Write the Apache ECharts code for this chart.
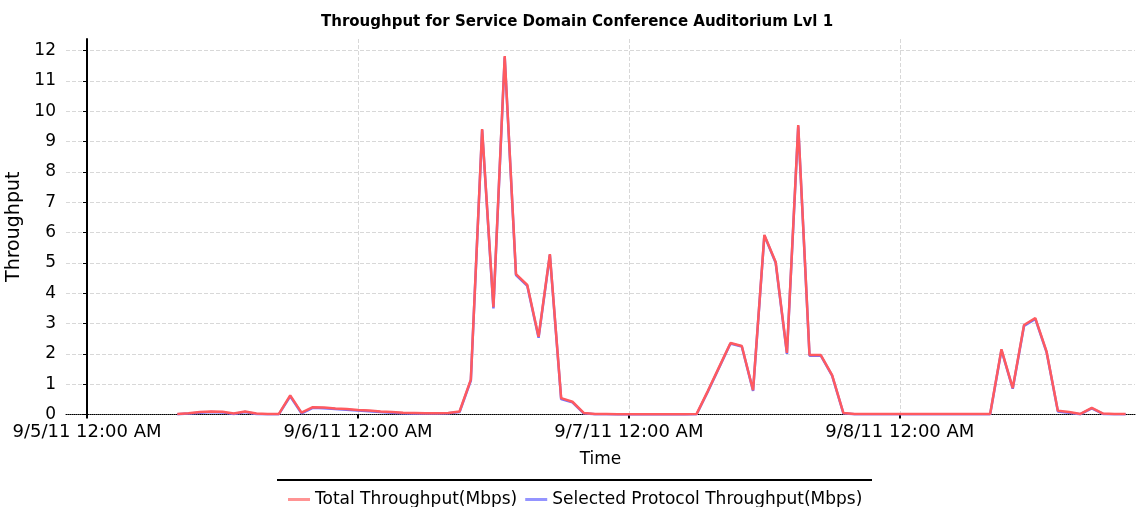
<!DOCTYPE html>
<html>
<head>
<meta charset="utf-8">
<title>Throughput</title>
<script src="https://cdn.jsdelivr.net/npm/echarts@6/dist/echarts.min.js"></script>
<style>
  html, body { margin: 0; padding: 0; background: #fff; }
  #box { width: 1138px; height: 507px; }
</style>
</head>
<body>
<div id="box"></div>
<script>
// hourly samples, hour 0 = 9/5/11 12:00 AM
var firstHour = 8;
var totalThroughput = [
    0.02, 0.04, 0.08, 0.10, 0.09, 0.03, 0.10, 0.03, 0.02, 0.02, 0.63, 0.06,
    0.24, 0.23, 0.20, 0.18, 0.15, 0.13, 0.10, 0.08, 0.06, 0.05, 0.04, 0.04,
    0.05, 0.10, 1.15, 9.41, 3.54, 11.82, 4.63, 4.27, 2.56, 5.29, 0.54, 0.42,
    0.05, 0.02, 0.02, 0.01, 0.01, 0.01, 0.01, 0.01, 0.01, 0.01, 0.02, 0.78,
    1.57, 2.36, 2.26, 0.80, 5.92, 5.03, 2.03, 9.54, 1.96, 1.96, 1.30, 0.05,
    0.02, 0.02, 0.02, 0.02, 0.02, 0.02, 0.02, 0.02, 0.02, 0.02, 0.02, 0.02,
    0.02, 2.15, 0.87, 2.95, 3.18, 2.07, 0.12, 0.08, 0.02, 0.22, 0.03, 0.02,
    0.02
];
var selectedThroughput = [
    0.01, 0.03, 0.06, 0.08, 0.07, 0.02, 0.08, 0.02, 0.01, 0.01, 0.60, 0.04,
    0.22, 0.21, 0.18, 0.16, 0.13, 0.11, 0.08, 0.06, 0.04, 0.03, 0.03, 0.03,
    0.04, 0.08, 1.12, 9.38, 3.50, 11.78, 4.60, 4.24, 2.53, 5.26, 0.51, 0.40,
    0.04, 0.01, 0.01, 0.00, 0.00, 0.00, 0.00, 0.00, 0.00, 0.00, 0.01, 0.76,
    1.55, 2.34, 2.24, 0.78, 5.90, 5.00, 2.00, 9.50, 1.94, 1.94, 1.28, 0.04,
    0.01, 0.01, 0.01, 0.01, 0.01, 0.01, 0.01, 0.01, 0.01, 0.01, 0.01, 0.01,
    0.01, 2.12, 0.85, 2.92, 3.15, 2.05, 0.10, 0.06, 0.01, 0.20, 0.02, 0.01,
    0.01
];
var dayTicks = [0, 24, 48, 72];
var dayLabels = ['9/5/11 12:00 AM', '9/6/11 12:00 AM', '9/7/11 12:00 AM', '9/8/11 12:00 AM'];
var yTicks = [0, 1, 2, 3, 4, 5, 6, 7, 8, 9, 10, 11, 12];
var seriesNames = ['Total Throughput(Mbps)', 'Selected Protocol Throughput(Mbps)'];

function toPoints(values) {
    return values.map(function (v, i) { return [firstHour + i, v]; });
}

var font = 'DejaVu Sans';
var myChart = echarts.init(document.getElementById('box'));

var option = {
    animation: false,
    textStyle: { fontFamily: font },
    title: {
        text: 'Throughput for Service Domain Conference Auditorium Lvl 1',
        left: 316,
        top: 10,
        textStyle: { fontFamily: font, fontSize: 15, fontWeight: 'bold', color: '#000' }
    },
    legend: {
        data: [
            { name: seriesNames[0], itemStyle: { color: '#ff9494' } },
            { name: seriesNames[1], itemStyle: { color: '#9494ff' } }
        ],
        icon: 'rect',
        left: 283,
        top: 486,
        itemWidth: 22,
        itemHeight: 3,
        itemGap: 8,
        textStyle: { fontFamily: font, fontSize: 17, color: '#000' }
    },
    graphic: [{
        type: 'line',
        shape: { x1: 277, y1: 480, x2: 872, y2: 480 },
        style: { stroke: '#000', lineWidth: 2 }
    }],
    grid: { left: 66, right: 3, top: 39, bottom: 92.5, outerBoundsMode: 'none', containLabel: false },
    xAxis: {
        type: 'value',
        min: -1.86,
        max: 92.83,
        name: 'Time',
        nameLocation: 'middle',
        nameGap: 37,
        nameTextStyle: { fontFamily: font, fontSize: 17, color: '#000' },
        axisLine: { lineStyle: { color: '#000', width: 1, type: 'dotted' } },
        axisTick: { customValues: dayTicks, length: 4, lineStyle: { color: '#000', width: 2 } },
        axisLabel: {
            customValues: dayTicks,
            margin: 9,
            fontFamily: font,
            fontSize: 18,
            color: '#000',
            formatter: function (v) { return dayLabels[dayTicks.indexOf(v)]; }
        },
        splitLine: { show: true, lineStyle: { color: '#d8d8d8', type: [4, 2] } }
    },
    yAxis: {
        type: 'value',
        min: 0,
        max: 12.38,
        name: 'Throughput',
        nameLocation: 'middle',
        nameGap: 35,
        nameTextStyle: { fontFamily: font, fontSize: 19, color: '#000' },
        axisLine: { show: true, lineStyle: { color: '#000', width: 2 } },
        axisTick: { show: true, customValues: yTicks, length: 4, lineStyle: { color: '#000' } },
        axisLabel: { customValues: yTicks, margin: 10, fontFamily: font, fontSize: 17, color: '#000' },
        splitLine: { show: true, lineStyle: { color: '#d8d8d8', type: [4, 2] } }
    },
    series: [{
        name: seriesNames[0],
        type: 'line',
        data: toPoints(totalThroughput),
        symbol: 'none',
        z: 3,
        color: '#ff5a5f',
        lineStyle: { width: 2.5, color: '#ff5a5f' }
    }, {
        name: seriesNames[1],
        type: 'line',
        data: toPoints(selectedThroughput),
        symbol: 'none',
        z: 2,
        color: '#7070ff',
        lineStyle: { width: 2.5, color: '#7070ff' }
    }]
};

myChart.setOption(option);
</script>
</body>
</html>
